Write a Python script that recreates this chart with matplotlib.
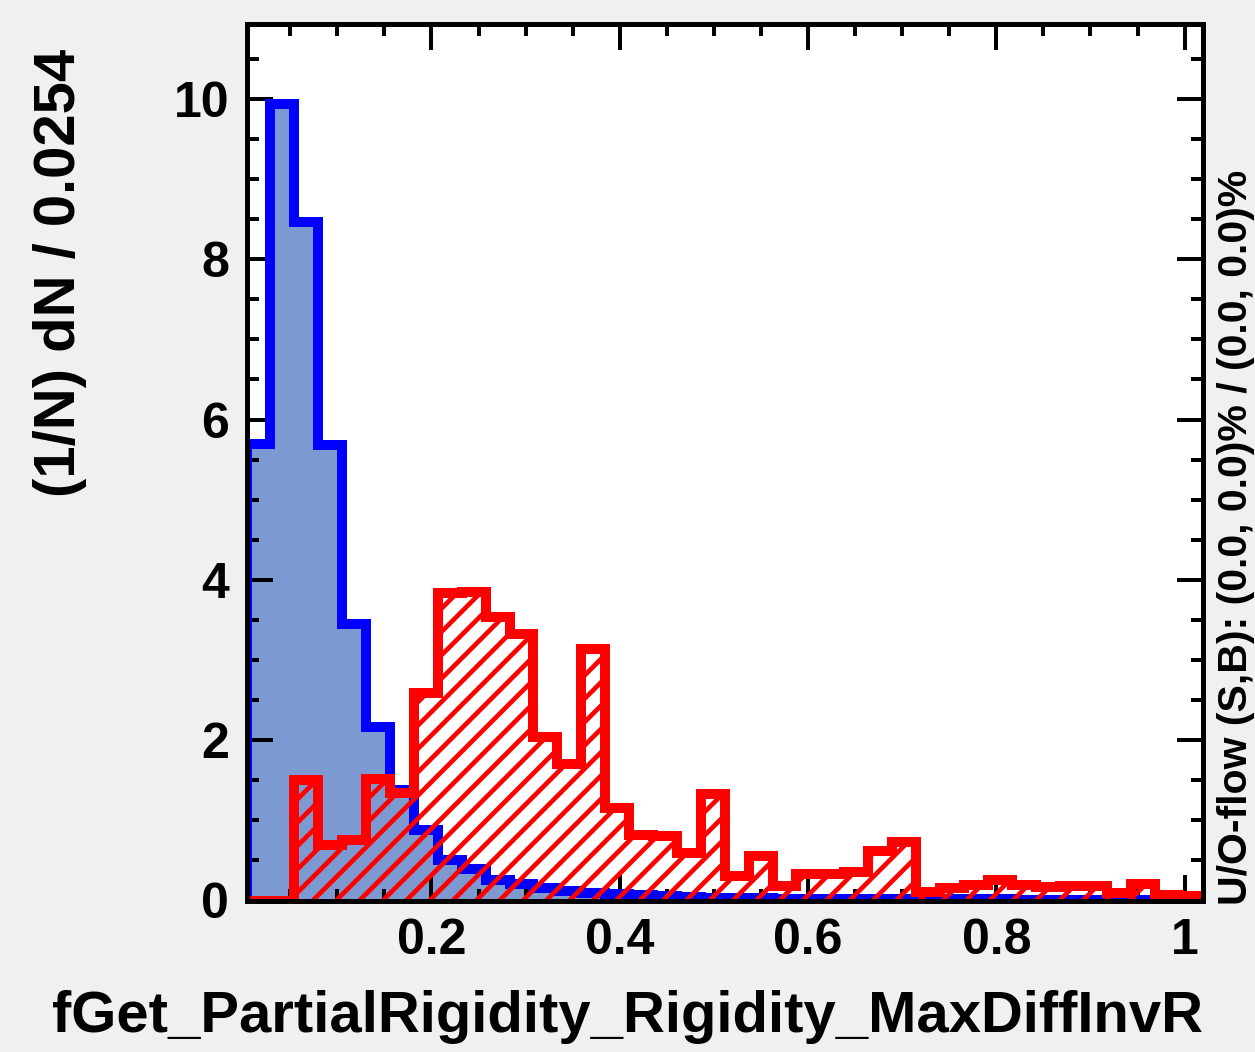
import numpy as np
import matplotlib
matplotlib.use("Agg")
import matplotlib.pyplot as plt
from matplotlib.ticker import MultipleLocator, FixedLocator

# ---- data ----
x_min = 0.0035
bin_width = 0.0254
n_bins = 40
edges = x_min + bin_width * np.arange(n_bins + 1)

signal = [5.70, 9.93, 8.47, 5.68, 3.45, 2.17, 1.38, 0.88, 0.51, 0.39,
          0.26, 0.20, 0.16, 0.12, 0.09, 0.08, 0.07, 0.05, 0.04, 0.03,
          0.03, 0.03, 0.02, 0.02, 0.02, 0.02, 0.02, 0.02, 0.02, 0.02,
          0.02, 0.02, 0.01, 0.01, 0.01, 0.01, 0.01, 0.01, 0.01, 0.01]
background = [0.0, 0.0, 1.50, 0.69, 0.75, 1.52, 1.34, 2.59, 3.83, 3.85,
              3.54, 3.32, 2.04, 1.70, 3.14, 1.15, 0.82, 0.80, 0.59, 1.33,
              0.31, 0.56, 0.18, 0.33, 0.33, 0.35, 0.62, 0.73, 0.10, 0.16,
              0.19, 0.26, 0.19, 0.17, 0.18, 0.18, 0.09, 0.20, 0.07, 0.06]
xticks = [0.2, 0.4, 0.6, 0.8, 1.0]
xticklabels = ["0.2", "0.4", "0.6", "0.8", "1"]
yticks = [0, 2, 4, 6, 8, 10]
yticklabels = ["0", "2", "4", "6", "8", "10"]
xlabel = "fGet_PartialRigidity_Rigidity_MaxDiffInvR"
ylabel = "(1/N) dN / 0.0254"
overflow_text = "U/O-flow (S,B): (0.0, 0.0)% / (0.0, 0.0)%"

# ---- style ----
DPI = 140
W, H = 1255, 1052
plt.rcParams['font.family'] = ['Liberation Sans', 'DejaVu Sans']
plt.rcParams['font.weight'] = 'bold'
plt.rcParams['hatch.linewidth'] = 2.4
px = 72.0 / DPI  # points per pixel

fig = plt.figure(figsize=(W / DPI, H / DPI), dpi=DPI, facecolor='#f0f0f0')
left, right, top, bottom = 246.5, 1203.0, 23.5, 900.5
ax = fig.add_axes([left / W, 1 - bottom / H, (right - left) / W, (bottom - top) / H])
ax.set_facecolor('white')

edges = np.asarray(edges)
ax.stairs(signal, edges, fill=True, color='#7d99d1', linewidth=0, zorder=1)
ax.stairs(signal, edges, color='#0000ff', linewidth=10 * px, zorder=2)
ax.stairs(background, edges, fill=True, facecolor='none', edgecolor='#ff0000',
          hatch='//', linewidth=0, zorder=3)
ax.stairs(background, edges, color='#ff0000', linewidth=10 * px, zorder=4)

ax.set_xlim(edges[0], edges[-1])
ax.set_ylim(0, 10.94)

ax.xaxis.set_major_locator(FixedLocator(xticks))
ax.set_xticklabels(xticklabels)
ax.xaxis.set_minor_locator(MultipleLocator(0.05))
ax.yaxis.set_major_locator(FixedLocator(yticks))
ax.set_yticklabels(yticklabels)
ax.yaxis.set_minor_locator(MultipleLocator(0.5))

ax.tick_params(which='both', direction='in', top=True, right=True,
               width=4 * px, colors='black', zorder=10)
ax.tick_params(which='major', length=26 * px, labelsize=50 * px, pad=9)
ax.tick_params(which='minor', length=12 * px)
for lab in ax.get_xticklabels() + ax.get_yticklabels():
    lab.set_fontweight('bold')

for sp in ax.spines.values():
    sp.set_linewidth(5 * px)
    sp.set_zorder(10)

fig.text(1203 / W, 1 - 1032 / H, xlabel, ha='right', va='baseline',
         fontsize=58 * px, fontweight='bold')
fig.text(60 / W, 1 - 273 / H, ylabel, ha='center', va='center', rotation=90,
         fontsize=58 * px, fontweight='bold')
fig.text(1236 / W, 1 - 905 / H, overflow_text, ha='center', va='bottom',
         rotation=90, fontsize=41 * px, fontweight='bold')

fig.savefig('out.png', dpi=DPI, facecolor=fig.get_facecolor())
